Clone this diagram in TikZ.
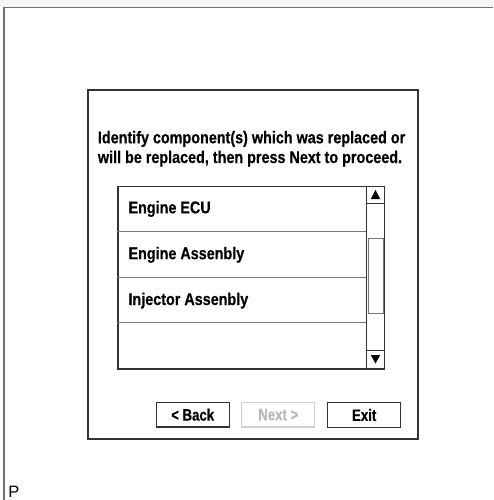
\documentclass[tikz,border=0pt]{standalone}
\usepackage{fontspec}
\setmainfont{Liberation Sans}
\newfontfamily\condfont[FakeStretch=0.845, BoldFeatures={FakeBold=0.4}]{Liberation Sans}
\newfontfamily\btnfont[FakeStretch=0.8, BoldFeatures={FakeBold=0.4}]{Liberation Sans}
\definecolor{bandgray}{HTML}{F4F6F6}
\definecolor{framegray}{HTML}{707070}
\definecolor{boxdark}{HTML}{333333}
\definecolor{rowline}{HTML}{777777}
\definecolor{nextgray}{HTML}{B8B8B8}
\definecolor{nextborder}{HTML}{D0D0D0}
\tikzset{
  headtext/.style={anchor=base west, inner sep=0pt, font=\condfont\bfseries\fontsize{17}{20}\selectfont, text=black},
  rowtext/.style={anchor=base west, inner sep=0pt, font=\condfont\bfseries\fontsize{17}{20}\selectfont, text=black},
  btnbox/.style={draw=boxdark, line width=1.1pt, inner sep=0pt, minimum width=73pt, minimum height=24.5pt, font=\btnfont\bfseries\fontsize{16.5}{18}\selectfont},
  arrowtri/.style={fill=black, draw=none},
}
\begin{document}
\begin{tikzpicture}[x=1pt,y=-1pt]
\useasboundingbox (0,0) rectangle (493,500);
\fill[white] (0,0) rectangle (493,500);
% page frame
\fill[bandgray] (0,0) rectangle (493,6.8);
\draw[framegray, line width=1.5pt] (4,7.5) -- (493,7.5);
\draw[framegray, line width=1.5pt] (4,7.5) -- (4,500);
% dialog
\node[draw=boxdark, line width=2pt, minimum width=330pt, minimum height=349pt, inner sep=0pt, anchor=north west] (dialog) at (86.7,89.3) {};
\node[headtext] (head1) at (97.7,143.3) {Identify component(s) which was replaced or};
\node[headtext] (head2) at (97.7,163.0) {will be replaced, then press Next to proceed.};
% list box
\node[draw=boxdark, line width=1.2pt, minimum width=266.7pt, minimum height=182.3pt, inner sep=0pt, anchor=north west] (list) at (117.3,186) {};
\coordinate (sbtop) at (366,186);
\coordinate (sbbot) at (366,368.3);
\draw[boxdark, line width=1pt] (sbtop) -- (sbbot);
\draw[rowline, line width=1pt] (117.3,231) -- (366,231);
\draw[rowline, line width=1pt] (117.3,277) -- (366,277);
\draw[rowline, line width=1pt] (117.3,322.3) -- (366,322.3);
\draw[boxdark, line width=1pt] (366,203.3) -- (384,203.3);
\draw[boxdark, line width=1pt] (366,350.7) -- (384,350.7);
\node[draw=rowline, line width=1pt, minimum width=14.5pt, minimum height=75.6pt, inner sep=0pt, anchor=north west] (thumb) at (368,237.7) {};
\fill[arrowtri] (370.7,199) -- (380.3,199) -- (375.5,190) -- cycle;
\fill[arrowtri] (370.7,355) -- (380.3,355) -- (375.5,363.5) -- cycle;
\node[rowtext] (row1) at (128.3,213.3) {Engine ECU};
\node[rowtext] (row2) at (128.3,259.2) {Engine Assenbly};
\node[rowtext] (row3) at (128.3,305) {Injector Assenbly};
% buttons
\node[btnbox] (back) at (192.7,414.7) {< Back};
\node[btnbox, draw=nextborder, text=nextgray] (next) at (278.3,414.7) {Next >};
\node[btnbox] (exit) at (364.2,415) {Exit};
% corner letter
\node[anchor=base west, inner sep=0pt, font=\fontsize{16.5}{18}\selectfont] (pmark) at (8.3,497.5) {P};
\end{tikzpicture}
\end{document}
